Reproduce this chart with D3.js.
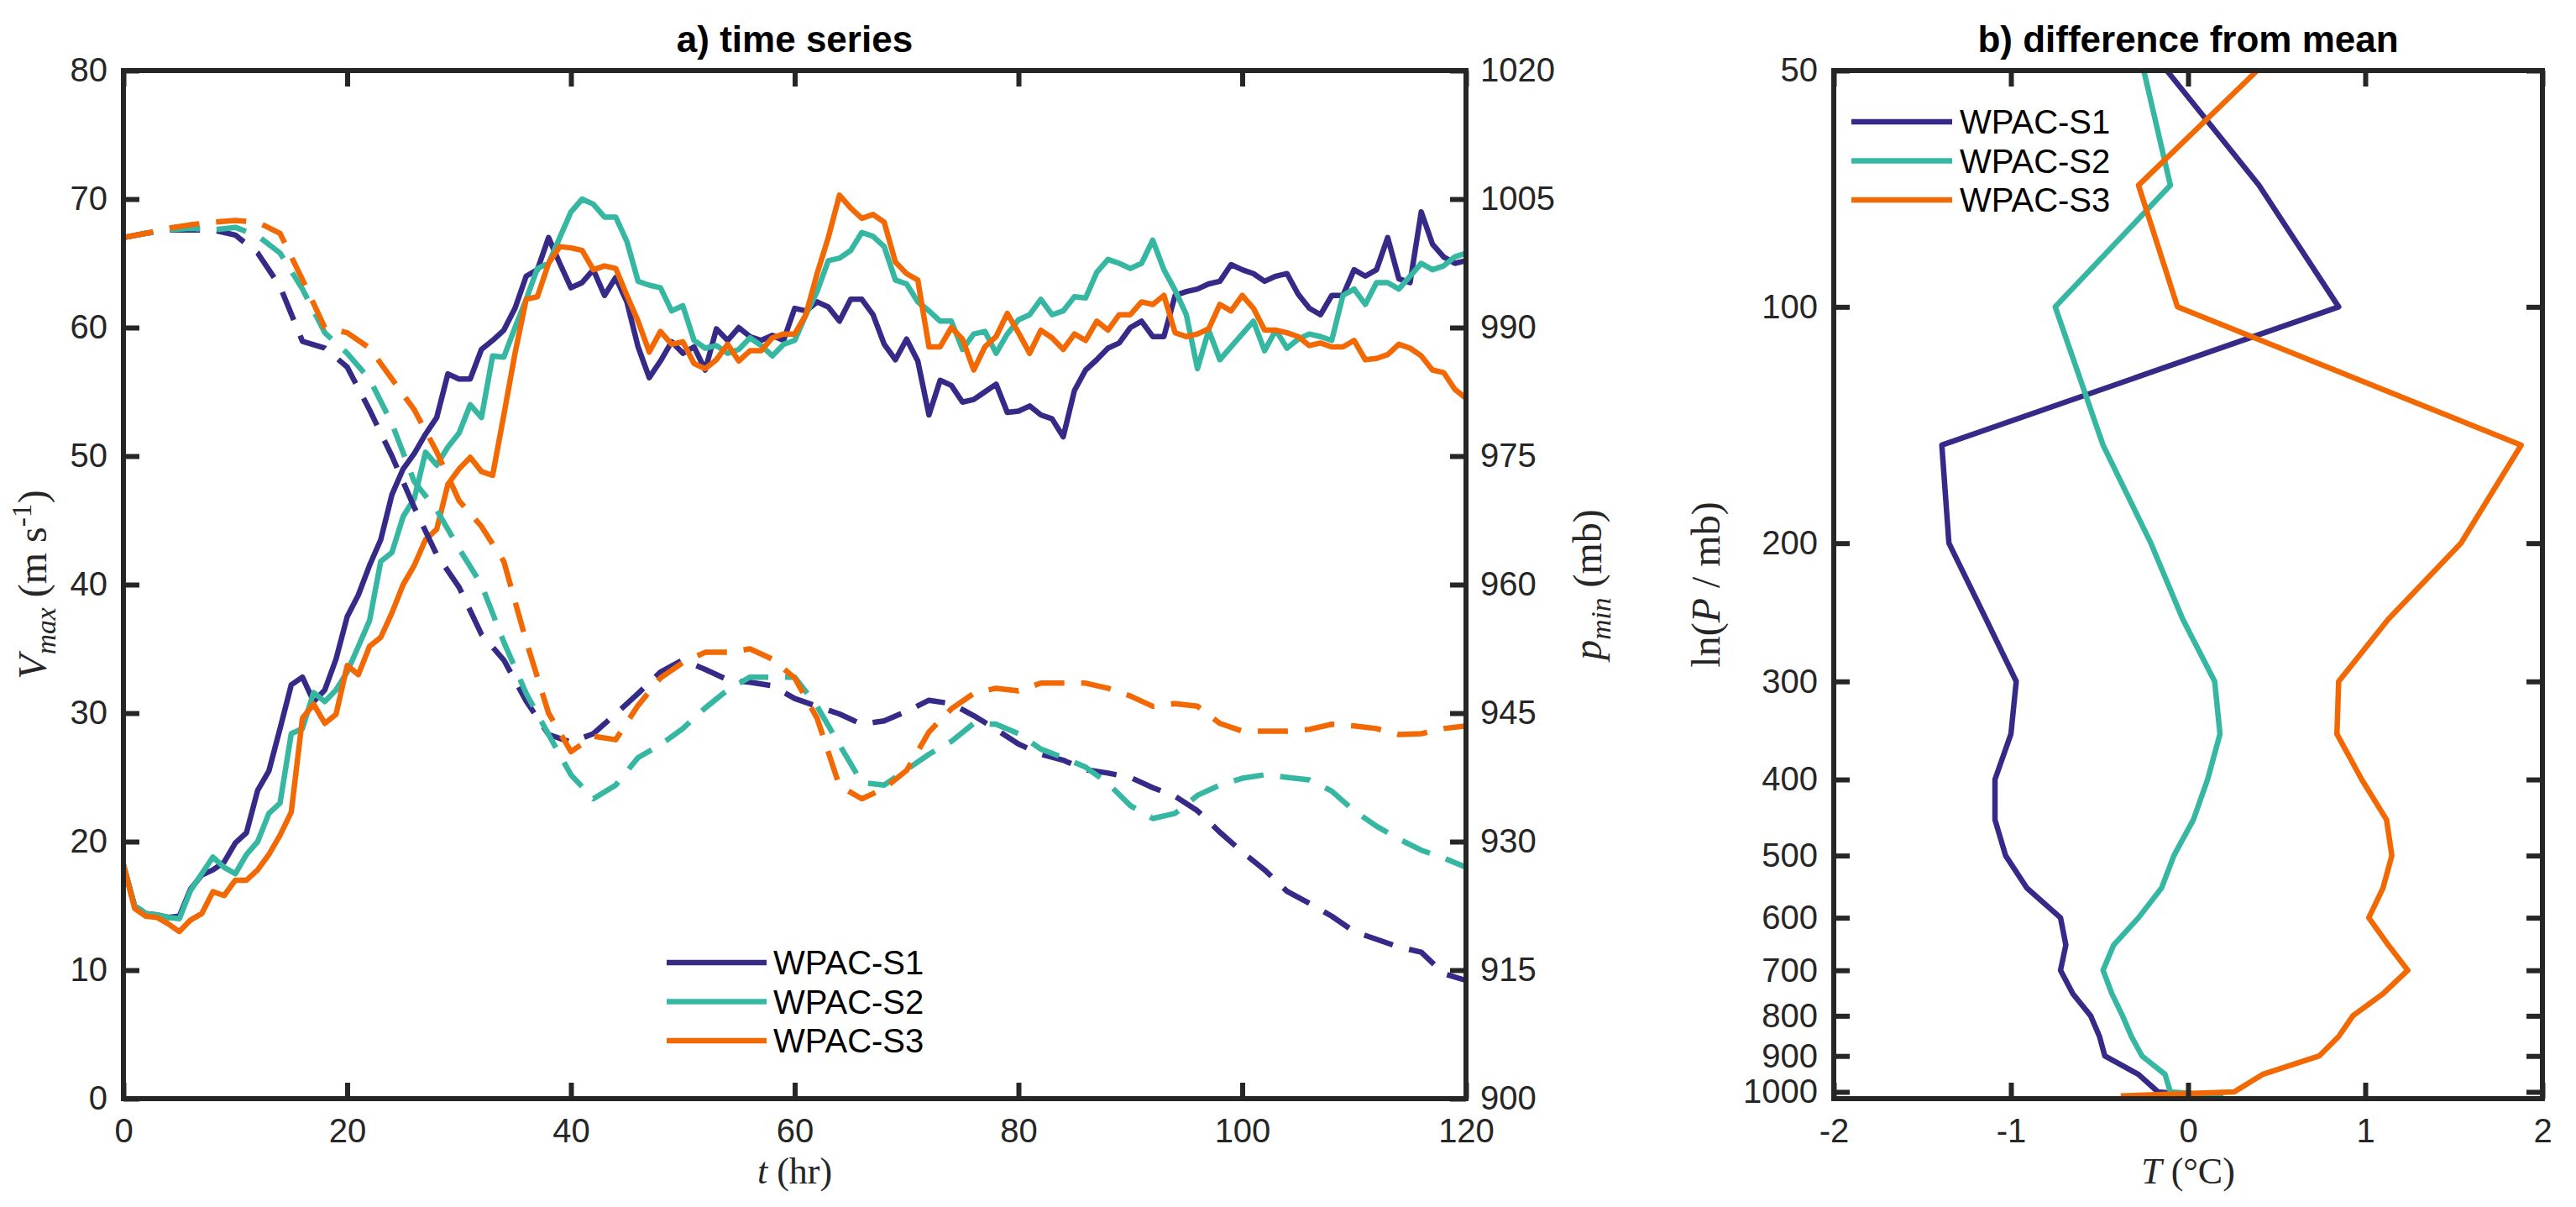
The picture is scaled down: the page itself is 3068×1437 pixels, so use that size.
<!DOCTYPE html>
<html>
<head>
<meta charset="utf-8">
<script src="https://cdn.jsdelivr.net/npm/d3@7"></script>
<style>
body { margin: 0; background: #fff; }
</style>
</head>
<body>
<svg id="chart"></svg>
<script>
const names  = ['WPAC-S1', 'WPAC-S2', 'WPAC-S3']
const colors = ['#352a87', '#35b7a1', '#f26904']

// time axis: solid lines are hourly, dashed lines every 2 hr
const hours  = d3.range(0, 121)
const hours2 = d3.range(0, 121, 2)

// Vmax (m/s), solid lines
const vmaxS1 = [18.2,15.0,14.4,14.3,14.1,14.2,16.3,17.4,17.8,18.4,19.9,20.7,24.0,25.5,28.8,32.2,32.8,30.9,31.8,34.2,
  37.5,39.2,41.5,43.5,47.0,49.0,50.2,51.7,53.0,56.4,56.0,56.0,58.3,59.0,59.8,61.5,64.0,64.5,67.0,65.0,
  63.1,63.5,64.5,62.5,63.9,62.0,58.5,56.1,57.4,58.9,58.0,58.5,56.7,59.9,59.0,60.0,59.3,59.0,59.4,59.0,
  61.5,61.3,62.0,61.6,60.5,62.2,62.2,61.0,58.7,57.5,59.1,57.4,53.2,55.9,55.5,54.2,54.4,55.0,55.6,53.4,
  53.5,53.9,53.2,52.9,51.5,55.1,56.7,57.5,58.4,58.8,60.0,60.5,59.3,59.3,62.5,62.8,63.0,63.4,63.6,64.9,
  64.5,64.2,63.6,64.0,64.2,62.6,61.5,61.0,62.5,62.5,64.5,64.0,64.5,67.0,63.8,63.5,69.0,66.5,65.5,65.0,65.2]
const vmaxS2 = [18.2,15.0,14.4,14.3,14.1,14.0,16.2,17.5,18.8,18.0,17.5,19.0,20.0,22.2,23.0,28.4,28.8,31.6,30.9,31.8,
  33.2,35.2,37.2,41.8,42.5,45.3,46.7,50.3,49.3,50.7,51.8,54.0,53.0,57.8,57.7,60.0,62.2,64.6,65.0,67.0,
  69.0,70.0,69.6,68.6,68.6,66.7,63.6,63.3,63.1,61.3,61.7,59.0,58.4,58.6,58.0,58.3,59.2,58.6,57.8,58.7,
  59.0,61.0,62.8,65.2,65.4,66.0,67.4,67.1,66.3,63.7,63.4,62.0,61.3,60.5,60.5,58.3,59.5,59.7,58.0,59.5,
  60.6,61.0,62.2,61.0,61.3,62.4,62.3,64.3,65.3,65.0,64.6,65.0,66.8,64.5,62.9,61.0,56.8,59.8,57.5,58.5,
  59.5,60.5,58.2,59.8,58.4,59.1,59.5,59.3,59.0,62.5,63.0,61.8,63.5,63.5,63.0,64.0,65.0,64.5,64.8,65.5,65.8]
const vmaxS3 = [18.2,14.8,14.2,14.1,13.6,13.0,13.9,14.4,16.1,15.8,17.0,17.0,17.8,19.0,20.5,22.3,29.6,30.7,29.2,29.9,
  33.7,33.0,35.2,35.9,37.8,40.0,41.5,43.5,44.3,47.8,49.0,49.9,48.8,48.5,53.2,58.0,62.2,62.4,65.0,66.3,
  66.2,66.0,64.5,64.8,64.6,62.5,60.5,58.1,59.7,58.7,58.9,57.2,56.8,57.5,58.7,57.4,58.2,58.2,59.2,59.5,
  59.5,61.0,64.2,67.0,70.3,69.3,68.5,68.8,68.2,65.1,64.2,63.7,58.5,58.5,60.0,59.1,56.7,58.5,59.3,61.1,
  59.6,58.0,59.8,59.2,58.3,59.5,59.0,60.5,59.8,61.0,61.0,62.0,61.8,62.5,59.6,59.3,59.5,59.9,61.8,61.3,
  62.5,61.5,59.8,59.8,59.6,59.3,58.6,58.8,58.5,58.5,59.0,57.5,57.6,57.9,58.7,58.4,57.8,56.7,56.5,55.2,54.5]

// pmin (mb), dashed lines
const pminS1 = [1000.5,1001.0,1001.4,1001.4,1001.4,1000.8,998.7,994.8,988.4,987.6,985.4,980.4,975.0,969.0,963.5,959.7,
  954.2,951.2,946.4,942.5,941.6,942.6,944.9,947.3,949.8,951.2,950.1,948.9,948.6,948.2,946.7,945.8,944.9,943.7,
  944.1,945.2,946.5,946.1,944.7,943.1,941.4,940.2,939.5,938.4,938.0,937.5,936.3,935.3,933.6,931.1,928.8,926.7,
  924.2,922.8,921.3,919.5,918.6,917.7,917.1,914.6,913.8]
const pminS2 = [1000.5,1001.0,1001.4,1001.6,1001.4,1001.7,1000.7,998.7,994.5,989.4,987.0,984.0,978.8,972.0,968.7,964.2,
  960.0,953.3,947.3,942.5,937.8,935.0,936.6,939.8,941.3,943.2,945.6,947.7,949.2,949.2,949.2,945.8,941.3,936.9,
  936.6,938.4,940.2,941.7,943.8,943.7,942.6,940.8,939.8,938.7,936.8,934.2,932.7,933.3,935.4,936.6,937.4,937.8,
  937.5,937.2,935.9,933.6,931.8,930.3,929.0,928.1,927.0]
const pminS3 = [1000.5,1001.0,1001.6,1002.0,1002.3,1002.5,1002.3,1001.0,995.6,990.0,989.4,987.6,984.0,980.4,975.5,969.8,
  966.8,962.7,953.4,945.0,940.5,942.3,941.9,945.9,949.1,950.9,952.1,952.1,952.5,951.3,949.1,944.4,936.5,935.0,
  936.2,938.3,942.8,945.5,947.3,947.9,947.6,948.5,948.5,948.5,947.9,947.0,945.8,946.1,945.8,943.8,942.9,942.9,
  942.9,943.1,943.7,943.5,943.2,942.5,942.6,943.2,943.5]

// temperature difference from mean (deg C) on pressure levels (mb)
const levels = [50,70,100,150,200,250,300,350,400,450,500,550,600,650,700,750,800,850,900,950,1000,1012]
const tdiffS1 = [-0.12,0.40,0.85,-1.39,-1.35,-1.14,-0.97,-1.00,-1.09,-1.09,-1.03,-0.91,-0.72,-0.69,-0.72,-0.65,-0.55,-0.50,-0.47,-0.28,-0.17,0.10]
const tdiffS2 = [-0.25,-0.10,-0.75,-0.48,-0.21,-0.03,0.15,0.18,0.11,0.03,-0.08,-0.15,-0.28,-0.42,-0.48,-0.43,-0.37,-0.32,-0.26,-0.13,-0.10,0.20]
const tdiffS3 = [0.39,-0.28,-0.06,1.88,1.54,1.13,0.85,0.84,0.98,1.12,1.15,1.10,1.02,1.13,1.24,1.10,0.93,0.85,0.74,0.42,0.26,-0.38]

// tick labels
const vTicks     = [0,10,20,30,40,50,60,70,80]
const pTicks     = [900,915,930,945,960,975,990,1005,1020]
const tTicks     = [0,20,40,60,80,100,120]
const levelTicks = [50,100,200,300,400,500,600,700,800,900,1000]
const dTicks     = [-2,-1,0,1,2]

const width  = 3068
const height = 1437
const ink    = '#262626'
const sans   = '"Liberation Sans", Arial, Helvetica, sans-serif'
const serif  = '"Liberation Serif", "Times New Roman", serif'
const plotTop = 84, plotBottom = 1308
const plain  = d => String(d)

const svg = d3.select('#chart')
    .attr('width', width)
    .attr('height', height)
    .style('background', '#fff')

const xA = d3.scaleLinear().domain([0, 120]).range([147, 1746])
const yV = d3.scaleLinear().domain([0, 80]).range([plotBottom, plotTop])
const yP = d3.scaleLinear().domain([900, 1020]).range([plotBottom, plotTop])
const xB = d3.scaleLinear().domain([-2, 2]).range([2184, 3028])
const yB = d3.scaleLog().domain([50, 1020]).range([plotTop, plotBottom])

const styleAxis = (g) => {
    g.select('.domain').remove()
    g.attr('font-size', 40).attr('font-family', sans)
    g.selectAll('.tick line').attr('stroke', ink).attr('stroke-width', 6)
    g.selectAll('.tick text').attr('fill', ink)
}

// ---- panel a: time series ----
const solid  = [vmaxS1, vmaxS2, vmaxS3]
const dashed = [pminS1, pminS2, pminS3]

const lineV = d3.line().x((d, i) => xA(hours[i])).y(d => yV(d))
const lineP = d3.line().x((d, i) => xA(hours2[i])).y(d => yP(d))

svg.append('g').selectAll('path')
    .data(solid)
    .enter()
    .append('path')
    .attr('d', lineV)
    .attr('fill', 'none')
    .attr('stroke', (d, i) => colors[i])
    .attr('stroke-width', 6.5)
    .attr('stroke-linejoin', 'round')

svg.append('g').selectAll('path')
    .data(dashed)
    .enter()
    .append('path')
    .attr('d', lineP)
    .attr('fill', 'none')
    .attr('stroke', (d, i) => colors[i])
    .attr('stroke-width', 6.5)
    .attr('stroke-dasharray', '36,20')
    .attr('stroke-linejoin', 'round')

svg.append('g').attr('transform', `translate(${xA(0)},0)`)
    .call(d3.axisLeft(yV).tickValues(vTicks).tickFormat(plain).tickSize(-19).tickPadding(19)).call(styleAxis)
svg.append('g').attr('transform', `translate(${xA(120)},0)`)
    .call(d3.axisRight(yP).tickValues(pTicks).tickFormat(plain).tickSize(-19).tickPadding(17)).call(styleAxis)
svg.append('g').attr('transform', `translate(0,${plotBottom})`)
    .call(d3.axisBottom(xA).tickValues(tTicks).tickFormat(plain).tickSize(-19).tickPadding(24)).call(styleAxis)
svg.append('g').attr('transform', `translate(0,${plotTop})`)
    .call(d3.axisTop(xA).tickValues(tTicks).tickSize(-19).tickFormat('')).call(styleAxis)

svg.append('rect')
    .attr('x', xA(0)).attr('y', plotTop)
    .attr('width', xA(120) - xA(0)).attr('height', plotBottom - plotTop)
    .attr('fill', 'none').attr('stroke', ink).attr('stroke-width', 6)

// legend a
const legA = svg.append('g').attr('font-family', sans).attr('font-size', 40)
names.forEach((n, i) => {
    const y = 1146 + i * 46.5
    legA.append('line').attr('x1', 794).attr('x2', 913).attr('y1', y).attr('y2', y)
        .attr('stroke', colors[i]).attr('stroke-width', 6.5)
    legA.append('text').attr('x', 921).attr('y', y).attr('dy', '0.36em').attr('fill', '#000').text(n)
})

// ---- panel b: difference from mean ----
const profiles = [tdiffS1, tdiffS2, tdiffS3]
const lineT = d3.line().x(d => xB(d)).y((d, i) => yB(levels[i]))

svg.append('g').selectAll('path')
    .data(profiles)
    .enter()
    .append('path')
    .attr('d', lineT)
    .attr('fill', 'none')
    .attr('stroke', (d, i) => colors[i])
    .attr('stroke-width', 6.5)
    .attr('stroke-linejoin', 'round')

svg.append('g').attr('transform', `translate(${xB(-2)},0)`)
    .call(d3.axisLeft(yB).tickValues(levelTicks).tickFormat(plain).tickSize(-19).tickPadding(19)).call(styleAxis)
svg.append('g').attr('transform', `translate(${xB(2)},0)`)
    .call(d3.axisRight(yB).tickValues(levelTicks).tickFormat('').tickSize(-19)).call(styleAxis)
svg.append('g').attr('transform', `translate(0,${plotBottom})`)
    .call(d3.axisBottom(xB).tickValues(dTicks).tickFormat(plain).tickSize(-19).tickPadding(24)).call(styleAxis)
svg.append('g').attr('transform', `translate(0,${plotTop})`)
    .call(d3.axisTop(xB).tickValues(dTicks).tickFormat('').tickSize(-19)).call(styleAxis)

svg.append('rect')
    .attr('x', xB(-2)).attr('y', plotTop)
    .attr('width', xB(2) - xB(-2)).attr('height', plotBottom - plotTop)
    .attr('fill', 'none').attr('stroke', ink).attr('stroke-width', 6)

const legB = svg.append('g').attr('font-family', sans).attr('font-size', 40)
names.forEach((n, i) => {
    const y = 145 + i * 46.5
    legB.append('line').attr('x1', 2205).attr('x2', 2325).attr('y1', y).attr('y2', y)
        .attr('stroke', colors[i]).attr('stroke-width', 6.5)
    legB.append('text').attr('x', 2334).attr('y', y).attr('dy', '0.36em').attr('fill', '#000').text(n)
})

// ---- titles ----
svg.append('text').attr('x', (xA(0) + xA(120)) / 2).attr('y', 62)
    .attr('text-anchor', 'middle').attr('font-family', sans).attr('font-weight', 'bold')
    .attr('font-size', 44).attr('fill', '#000').text('a) time series')
svg.append('text').attr('x', (xB(-2) + xB(2)) / 2).attr('y', 62)
    .attr('text-anchor', 'middle').attr('font-family', sans).attr('font-weight', 'bold')
    .attr('font-size', 44).attr('fill', '#000').text('b) difference from mean')

// ---- axis labels (math style) ----
const mathLabel = (x, y, rotate, size, parts) => {
    const t = svg.append('text')
        .attr('transform', `translate(${x},${y})` + (rotate ? ' rotate(-90)' : ''))
        .attr('text-anchor', 'middle')
        .attr('font-family', serif)
        .attr('font-size', size)
        .attr('fill', ink)
    parts.forEach(p => {
        const s = t.append('tspan').text(p.text)
        if (p.italic) s.attr('font-style', 'italic')
        if (p.sub) s.attr('font-size', size * 0.7).attr('dy', size * 0.22)
        if (p.sup) s.attr('font-size', size * 0.7).attr('dy', -size * 0.38)
        if (p.back) s.attr('dy', p.back * size)
    })
}

mathLabel((xA(0) + xA(120)) / 2, 1409, false, 44, [
    {text: 't', italic: true}, {text: ' (hr)'}])
mathLabel(55, 696, true, 48, [
    {text: 'V', italic: true}, {text: 'max', italic: true, sub: true},
    {text: ' (m s', back: -0.22}, {text: '-1', sup: true}, {text: ')', back: 0.38}])
mathLabel(1907, 696, true, 48, [
    {text: 'p', italic: true}, {text: 'min', italic: true, sub: true},
    {text: ' (mb)', back: -0.22}])
mathLabel(2048, 696, true, 48, [
    {text: 'ln('}, {text: 'P', italic: true}, {text: ' / mb)'}])
mathLabel((xB(-2) + xB(2)) / 2, 1409, false, 44, [
    {text: 'T', italic: true}, {text: ' (°C)'}])
</script>
</body>
</html>
